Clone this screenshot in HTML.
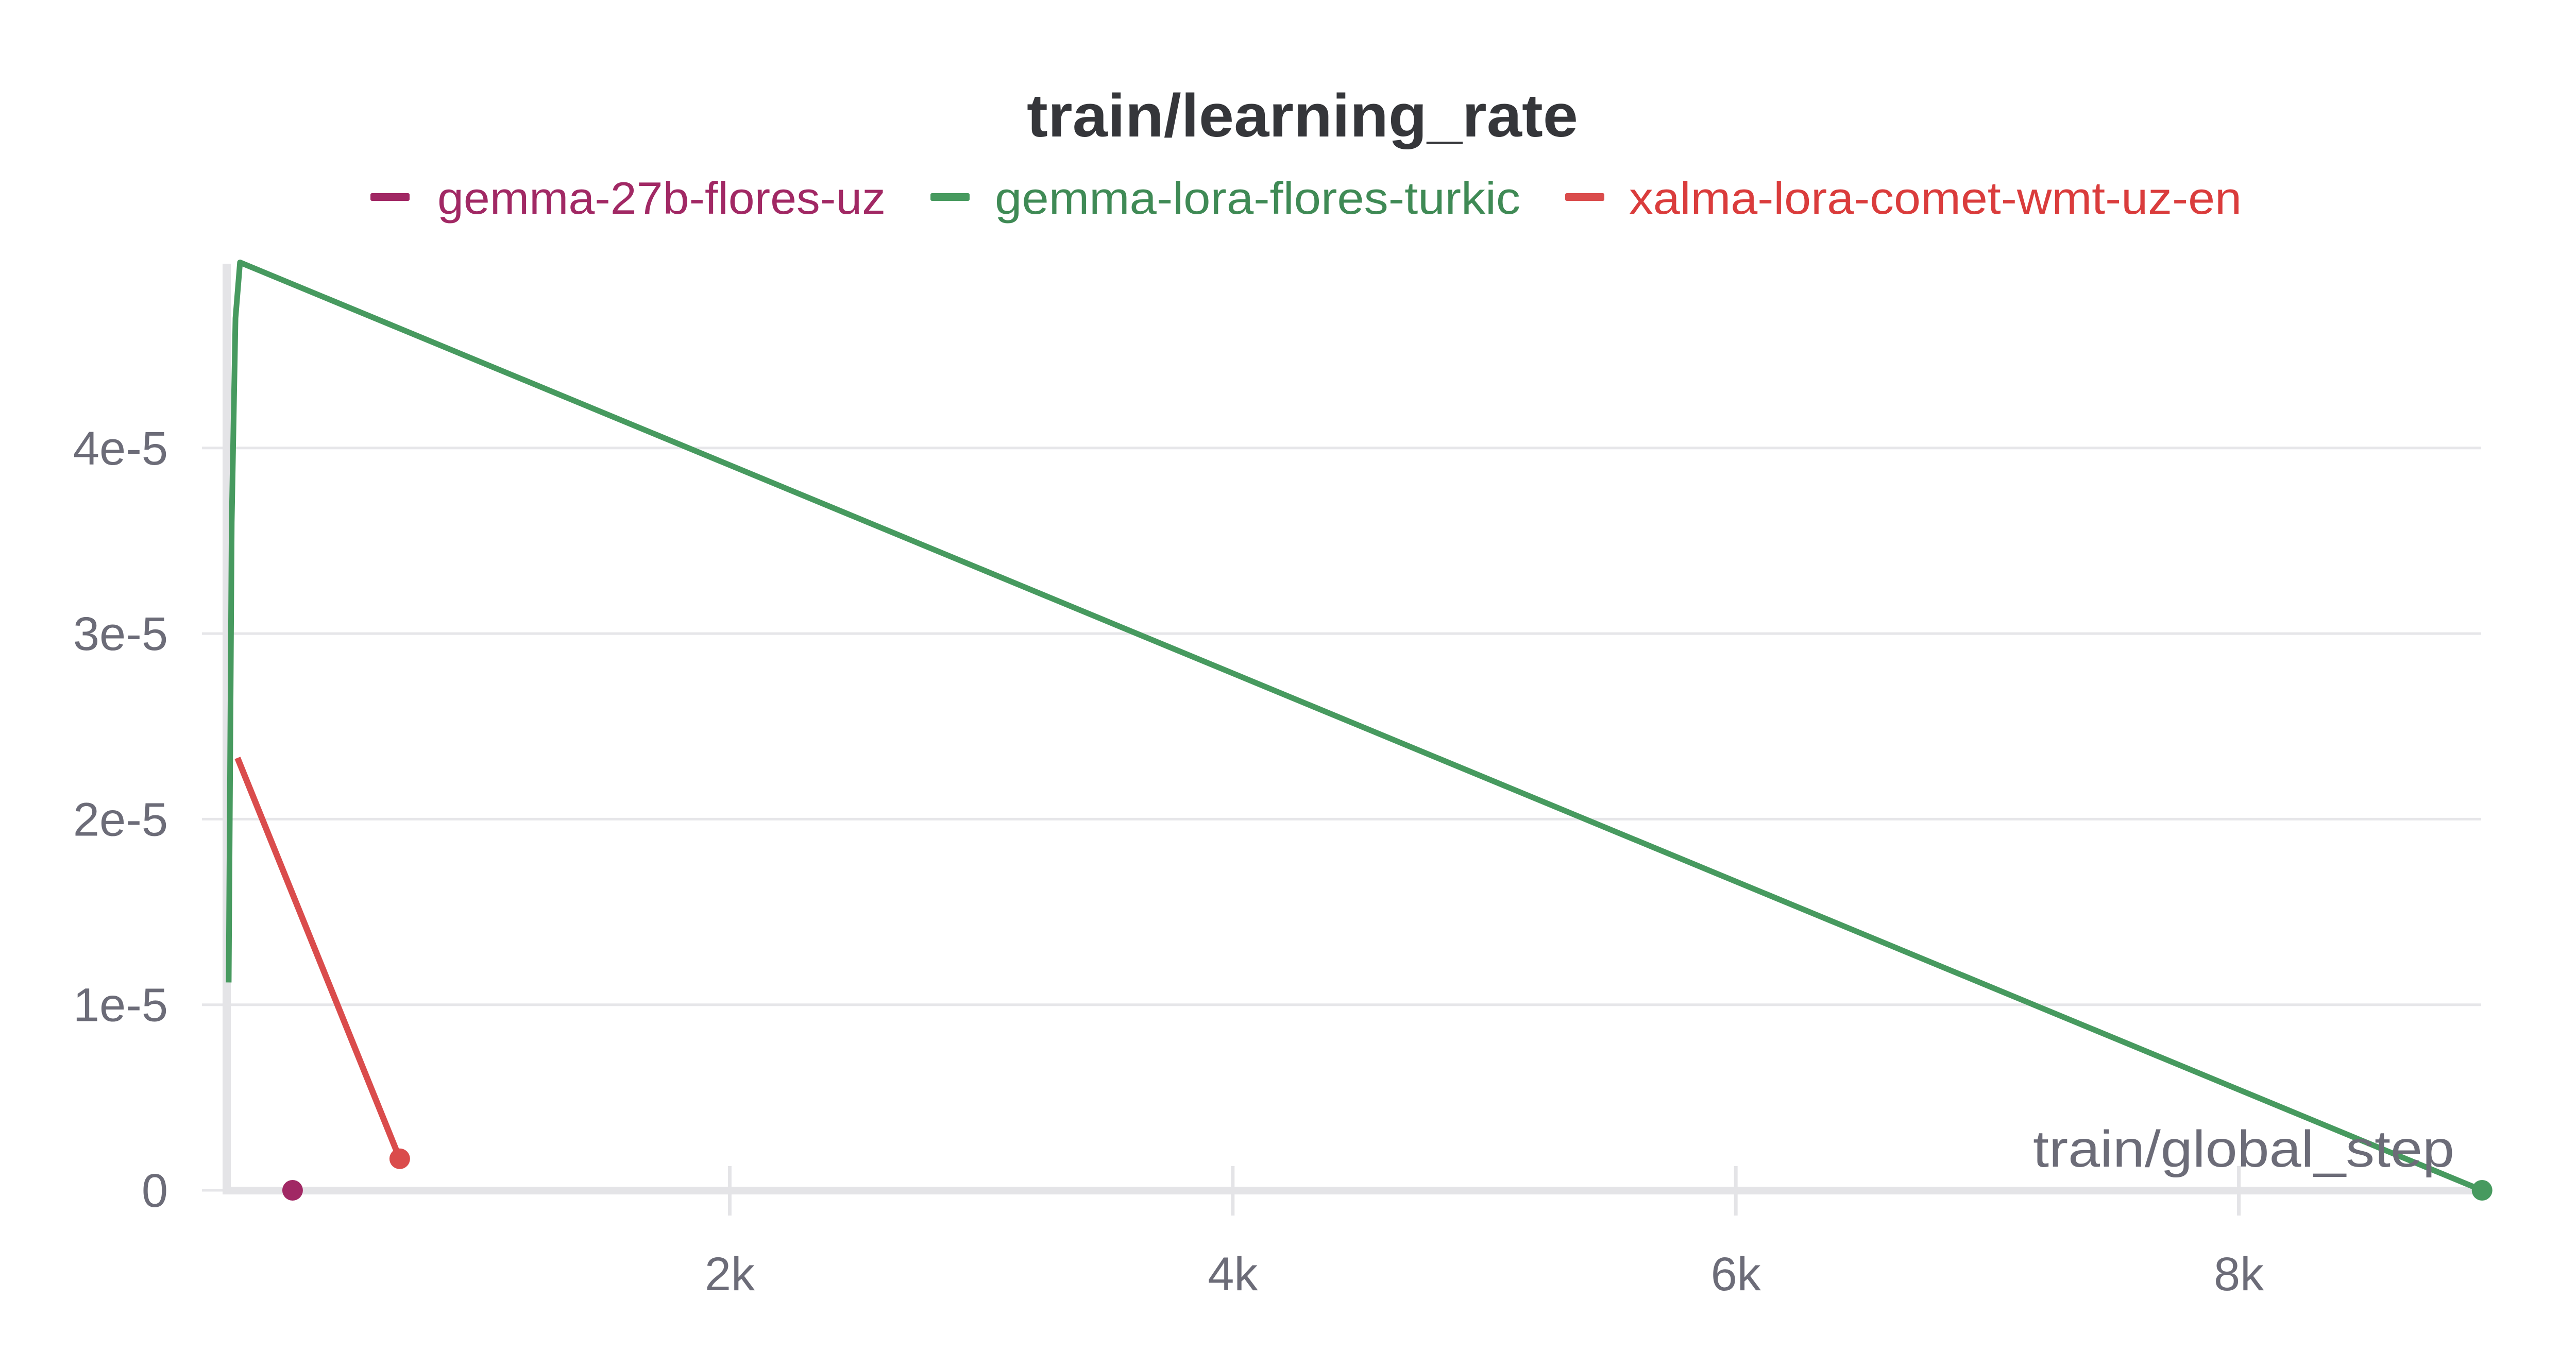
<!DOCTYPE html>
<html><head><meta charset="utf-8">
<style>
html,body{margin:0;padding:0;background:#fff;}
svg{display:block;font-family:"Liberation Sans",sans-serif;}
</style></head>
<body>
<svg id="chart" width="5056" height="2656" viewBox="0 0 5056 2656" xmlns="http://www.w3.org/2000/svg">
  <rect width="5056" height="2656" fill="#fff"/>
  <text x="2528" y="265" text-anchor="middle" font-size="118" font-weight="bold" fill="#35363a" textLength="1070" lengthAdjust="spacingAndGlyphs">train/learning_rate</text>
  <g>
    <g>
      <rect x="719" y="375" width="76" height="15" rx="3" fill="#A12864"/>
      <text x="849" y="415" font-size="88" fill="#A12864" textLength="870" lengthAdjust="spacingAndGlyphs">gemma-27b-flores-uz</text>
    </g>
    <g>
      <rect x="1806" y="375" width="76" height="15" rx="3" fill="#479A5F"/>
      <text x="1931" y="415" font-size="88" fill="#3f8a55" textLength="1020" lengthAdjust="spacingAndGlyphs">gemma-lora-flores-turkic</text>
    </g>
    <g>
      <rect x="3038" y="375" width="76" height="15" rx="3" fill="#DA4C4C"/>
      <text x="3162" y="415" font-size="88" fill="#DA3C3C" textLength="1189" lengthAdjust="spacingAndGlyphs">xalma-lora-comet-wmt-uz-en</text>
    </g>
  </g>
  <g id="grid"></g>
  <g id="axes"></g>
  <g id="series"></g>
  <text x="4764" y="2265" text-anchor="end" font-size="100" fill="#6c6c78" textLength="818" lengthAdjust="spacingAndGlyphs">train/global_step</text>
</svg>
<script>
const yTicks = [0, 1e-5, 2e-5, 3e-5, 4e-5];
const yTickLabels = ["0", "1e-5", "2e-5", "3e-5", "4e-5"];
const xTicks = [2000, 4000, 6000, 8000];
const xTickLabels = ["2k", "4k", "6k", "8k"];
const greenSteps = [8, 20, 35, 53, 8967];
const greenValues = [1.12e-5, 3.6e-5, 4.7e-5, 5.0e-5, 0];
const redSteps = [43, 688];
const redValues = [2.33e-5, 1.7e-6];
const purpleSteps = [262];
const purpleValues = [0];

const NS = "http://www.w3.org/2000/svg";
const X0 = 440, PXSTEP = 0.4882;
const Y0 = 2311, PXVAL = 360.3e5;
function xs(v){ return X0 + v * PXSTEP; }
function ys(v){ return Y0 - v * PXVAL; }
function mk(tag, attrs, parent){
  const e = document.createElementNS(NS, tag);
  for (const k in attrs) e.setAttribute(k, attrs[k]);
  parent.appendChild(e);
  return e;
}
const grid = document.getElementById('grid');
const axes = document.getElementById('axes');
const series = document.getElementById('series');

yTicks.forEach((v, i) => {
  if (v !== 0) {
    const g = mk('line', {x1: 392, x2: 4816, y1: ys(v), y2: ys(v), stroke: '#e6e6e9', 'stroke-width': 5}, grid);
    
    
  } else {
    const g = mk('line', {x1: 392, x2: 440, y1: ys(v), y2: ys(v), stroke: '#e6e6e9', 'stroke-width': 5}, grid);
    
    
  }
  const t = mk('text', {x: 326, y: ys(v) + 32, 'text-anchor': 'end', 'font-size': 92, fill: '#6c6c78'}, axes);
  t.textContent = yTickLabels[i];
  
  
});

const vbar = mk('rect', {x: 432, y: 512, width: 16, height: 1807, fill: '#e4e4e7'}, axes);


const hbar = mk('rect', {x: 432, y: 2304, width: 4384, height: 15, fill: '#e4e4e7'}, axes);



xTicks.forEach((v, i) => {
  const tk = mk('line', {x1: xs(v), x2: xs(v), y1: 2264, y2: 2360, stroke: '#e4e4e7', 'stroke-width': 7}, axes);
  
  
  const t = mk('text', {x: xs(v), y: 2505, 'text-anchor': 'middle', 'font-size': 92, fill: '#6c6c78'}, axes);
  t.textContent = xTickLabels[i];
  
  
});

function drawLine(steps, vals, color, name, w){
  const pts = steps.map((s, i) => xs(s) + ',' + ys(vals[i])).join(' ');
  const pl = mk('polyline', {points: pts, fill: 'none', stroke: color, 'stroke-width': w, 'stroke-linejoin': 'round'}, series);
  
  
}
function drawDot(step, val, color, name){
  const c = mk('circle', {cx: xs(step), cy: ys(val), r: 20, fill: color}, series);
  
  
}
drawLine(greenSteps, greenValues, '#479A5F', 'series-gemma-lora-flores-turkic', 11);
drawDot(greenSteps[greenSteps.length-1], greenValues[greenValues.length-1], '#479A5F', 'last-point-gemma-lora-flores-turkic');
drawLine(redSteps, redValues, '#DA4C4C', 'series-xalma-lora-comet-wmt-uz-en', 12);
drawDot(redSteps[redSteps.length-1], redValues[redValues.length-1], '#DA4C4C', 'last-point-xalma-lora-comet-wmt-uz-en');
drawDot(purpleSteps[0], purpleValues[0], '#A12864', 'point-gemma-27b-flores-uz');
</script>
</body></html>
